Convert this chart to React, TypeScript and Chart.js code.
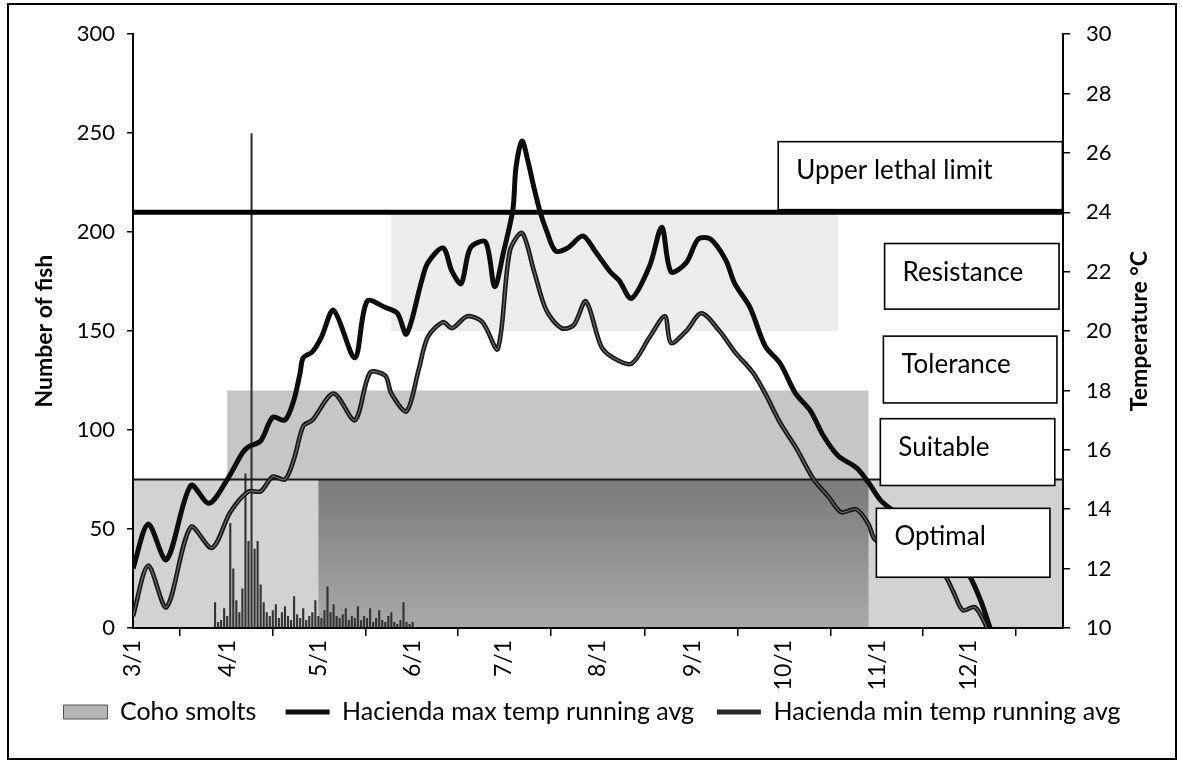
import React, { useEffect, useRef } from 'react';
import { Chart, registerables } from 'chart.js';

Chart.register(...registerables);

// ---------------- data ----------------
// x values are days counted from 3/1
const monthTickDays = [0, 31, 61, 92, 122, 153, 184, 214, 245, 275, 306];
const monthTickLabels = ['3/1', '4/1', '5/1', '6/1', '7/1', '8/1', '9/1', '10/1', '11/1', '12/1', ''];

const maxTempDays = [0, 5, 11, 19, 25, 31, 36, 38, 42, 46, 50, 53, 55, 56, 59, 62, 66, 73, 77, 83, 87, 90, 95, 97, 102, 105, 108, 111, 116, 119, 122, 125, 126, 128, 130, 132, 134, 136, 139, 143, 148, 152, 157, 160, 164, 170, 174, 177, 182, 186, 190, 195, 198, 203, 208, 213, 218, 223, 227, 232, 238, 242, 246, 252, 259, 266, 271, 275, 279, 282, 284];
const maxTempValues = [12.0, 13.5, 12.3, 14.8, 14.2, 15.0, 15.9, 16.1, 16.3, 17.1, 17.0, 17.7, 18.6, 19.1, 19.3, 19.8, 20.7, 19.1, 21.0, 20.8, 20.6, 19.9, 21.7, 22.3, 22.8, 22.0, 21.6, 22.8, 23.0, 21.5, 22.7, 24.1, 25.5, 26.4, 25.7, 24.8, 24.0, 23.4, 22.7, 22.8, 23.2, 22.7, 22.0, 21.7, 21.1, 22.2, 23.5, 22.0, 22.3, 23.1, 23.1, 22.4, 21.6, 20.8, 19.5, 18.9, 17.9, 17.3, 16.5, 15.8, 15.4, 14.9, 14.3, 13.8, 13.2, 12.6, 12.2, 11.8, 10.9, 10.0, 9.4];

const minTempDays = [0, 5, 11, 19, 26, 32, 38, 42, 46, 50, 53, 56, 59, 66, 73, 78, 83, 85, 90, 94, 97, 102, 105, 110, 115, 120, 124, 128, 132, 136, 141, 145, 149, 154, 158, 164, 170, 175, 177, 182, 187, 193, 198, 204, 208, 213, 218, 224, 229, 233, 238, 242, 244, 250, 258, 264, 267, 270, 273, 277, 281, 283];
const minTempValues = [10.4, 12.1, 10.7, 13.4, 12.7, 13.9, 14.6, 14.6, 15.1, 15.0, 15.7, 16.8, 17.0, 17.9, 17.0, 18.6, 18.5, 17.9, 17.3, 18.7, 19.8, 20.3, 20.1, 20.5, 20.3, 19.4, 22.7, 23.3, 22.0, 20.7, 20.1, 20.2, 21.0, 19.5, 19.1, 18.9, 19.8, 20.5, 19.6, 20.0, 20.6, 20.0, 19.3, 18.6, 17.9, 16.9, 16.1, 15.0, 14.4, 13.9, 14.0, 13.5, 13.0, 12.6, 12.3, 12.0, 11.8, 11.2, 10.6, 10.7, 10.0, 9.4];

const smoltDays = [27, 28, 29, 30, 31, 32, 33, 34, 35, 36, 37, 38, 39, 40, 41, 42, 43, 44, 45, 46, 47, 48, 49, 50, 51, 52, 53, 54, 55, 56, 57, 58, 59, 60, 61, 62, 63, 64, 65, 66, 67, 68, 69, 70, 71, 72, 73, 74, 75, 76, 77, 78, 79, 80, 81, 82, 83, 84, 85, 86, 87, 88, 89, 90, 91, 92];
const smoltCounts = [13, 3, 4, 10, 6, 53, 30, 14, 8, 20, 78, 44, 250, 40, 44, 22, 13, 8, 6, 9, 12, 5, 8, 11, 6, 4, 16, 7, 5, 10, 4, 6, 8, 14, 6, 5, 9, 21, 8, 12, 6, 5, 7, 10, 4, 6, 5, 11, 4, 6, 5, 10, 3, 5, 9, 4, 3, 6, 8, 3, 2, 4, 13, 3, 2, 3];

const upperLethalTemp = [24];
const optimalLimitTemp = [15];

const seriesLabels = ['Coho smolts', 'Hacienda max temp running avg', 'Hacienda min temp running avg'];

// ---------------- layout / style config ----------------
const X_END = 306;

const zoneBands = [
  { d0: 0, d1: X_END, t0: 10, t1: 15, color: '#d2d2d2' },
  { d0: 61, d1: 242, t0: 10, t1: 15, color: '#7a7a7a', color2: '#a9a9a9' },
  { d0: 31, d1: 242, t0: 15, t1: 18, color: '#c6c6c6' },
  { d0: 85, d1: 232, t0: 20, t1: 24, color: '#ececec' },
];

const zoneBoxes = [
  { label: 'Upper lethal limit', d0: 212.3, d1: 305.8, tTop: 26.38, tBottom: 24.09 },
  { label: 'Resistance', d0: 247.3, d1: 304.7, tTop: 22.95, tBottom: 20.74 },
  { label: 'Tolerance', d0: 246.9, d1: 304.0, tTop: 19.83, tBottom: 17.58 },
  { label: 'Suitable', d0: 245.9, d1: 303.3, tTop: 17.05, tBottom: 14.8 },
  { label: 'Optimal', d0: 244.6, d1: 301.7, tTop: 14.03, tBottom: 11.71 },
];

const FONT = 'Lato, "Open Sans", sans-serif';

const bandsPlugin = {
  id: 'zoneBands',
  beforeDraw(chart: any) {
    const { ctx, chartArea, scales } = chart;
    const xs = scales.x;
    const ys = scales.y2;
    ctx.save();
    ctx.beginPath();
    ctx.rect(chartArea.left, chartArea.top, chartArea.right - chartArea.left, chartArea.bottom - chartArea.top);
    ctx.clip();
    zoneBands.forEach((b: any) => {
      const x0 = xs.getPixelForValue(b.d0);
      const x1 = xs.getPixelForValue(b.d1);
      const y0 = ys.getPixelForValue(b.t1);
      const y1 = ys.getPixelForValue(b.t0);
      if (b.color2) {
        const g = ctx.createLinearGradient(0, y0, 0, y1);
        g.addColorStop(0, b.color);
        g.addColorStop(1, b.color2);
        ctx.fillStyle = g;
      } else {
        ctx.fillStyle = b.color;
      }
      ctx.fillRect(x0, y0, x1 - x0, y1 - y0);
    });
    ctx.restore();
  },
};

const boxesPlugin = {
  id: 'zoneBoxes',
  afterDatasetsDraw(chart: any) {
    const { ctx, scales } = chart;
    const xs = scales.x;
    const ys = scales.y2;
    ctx.save();
    zoneBoxes.forEach((b) => {
      const x0 = xs.getPixelForValue(b.d0);
      const x1 = xs.getPixelForValue(b.d1);
      const y0 = ys.getPixelForValue(b.tTop);
      const y1 = ys.getPixelForValue(b.tBottom);
      ctx.fillStyle = '#ffffff';
      ctx.fillRect(x0, y0, x1 - x0, y1 - y0);
      ctx.strokeStyle = '#000';
      ctx.lineWidth = 1.6;
      ctx.strokeRect(x0, y0, x1 - x0, y1 - y0);
      ctx.fillStyle = '#000';
      ctx.font = `26px ${FONT}`;
      ctx.textAlign = 'left';
      ctx.textBaseline = 'alphabetic';
      ctx.fillText(b.label, x0 + 18, y0 + 37);
    });
    ctx.restore();
  },
  afterDraw(chart: any) {
    const { ctx, chartArea } = chart;
    ctx.save();
    ctx.translate(chartArea.right + 77, (chartArea.top + chartArea.bottom) / 2);
    ctx.rotate(-Math.PI / 2);
    ctx.font = `bold 23px ${FONT}`;
    ctx.fillStyle = '#000';
    ctx.textAlign = 'center';
    ctx.textBaseline = 'middle';
    ctx.fillText('Temperature °C', 0, 0);
    ctx.restore();
  },
};

export default function App() {
  const canvasRef = useRef<HTMLCanvasElement | null>(null);

  useEffect(() => {
    if (!canvasRef.current) return;
    Chart.defaults.font.family = FONT;
    Chart.defaults.color = '#000';

    const maxData = maxTempDays.map((d, i) => ({ x: d, y: maxTempValues[i] }));
    const minData = minTempDays.map((d, i) => ({ x: d, y: minTempValues[i] }));
    const smoltData = smoltDays.map((d, i) => ({ x: d, y: smoltCounts[i] }));
    const lethalData = [{ x: 0, y: upperLethalTemp[0] }, { x: X_END, y: upperLethalTemp[0] }];
    const optimalData = [{ x: 0, y: optimalLimitTemp[0] }, { x: X_END, y: optimalLimitTemp[0] }];

    const chart = new Chart(canvasRef.current, {
      type: 'line',
      data: {
        datasets: [
          {
            type: 'line', label: seriesLabels[1], data: maxData, yAxisID: 'y2',
            borderColor: '#0d0d0d', borderWidth: 5, pointRadius: 0, tension: 0.3, order: 1, clip: 0,
          } as any,
          {
            type: 'line', label: 'min-inner', data: minData, yAxisID: 'y2',
            borderColor: '#6e6e6e', borderWidth: 1.1, pointRadius: 0, tension: 0.3, order: 2, clip: 0,
          } as any,
          {
            type: 'line', label: seriesLabels[2], data: minData, yAxisID: 'y2',
            borderColor: '#1a1a1a', borderWidth: 4.6, pointRadius: 0, tension: 0.3, order: 3, clip: 0,
          } as any,
          {
            type: 'line', label: 'lethal', data: lethalData, yAxisID: 'y2',
            borderColor: '#000', borderWidth: 5, pointRadius: 0, order: 4,
          } as any,
          {
            type: 'line', label: 'optimal', data: optimalData, yAxisID: 'y2',
            borderColor: '#1a1a1a', borderWidth: 2, pointRadius: 0, order: 4,
          } as any,
          {
            type: 'bar', label: seriesLabels[0], data: smoltData, yAxisID: 'y',
            backgroundColor: '#333', barPercentage: 0.7, categoryPercentage: 1, order: 6,
          } as any,
        ],
      },
      options: {
        responsive: false,
        animation: false,
        devicePixelRatio: 1,
        events: [],
        layout: { padding: { top: 27, left: 0, right: 0, bottom: 23.5 } },
        scales: {
          x: {
            type: 'linear', min: 0, max: X_END, offset: false,
            afterBuildTicks: (scale: any) => { scale.ticks = monthTickDays.map((v) => ({ value: v })); },
            afterFit: (scale: any) => { scale.height = 61.5; },
            ticks: {
              autoSkip: false, minRotation: 90, maxRotation: 90, padding: 4,
              font: { size: 23 }, color: '#000',
              callback: (_v: any, i: number) => monthTickLabels[i],
            },
            grid: { drawOnChartArea: false, drawTicks: true, tickLength: 8, color: '#000', lineWidth: 1.5 },
            border: { display: true, color: '#000', width: 2 },
          },
          y: {
            type: 'linear', position: 'left', min: 0, max: 300,
            afterFit: (scale: any) => { scale.width = 124; },
            ticks: { stepSize: 50, padding: 12, font: { size: 22 }, color: '#000' },
            grid: { drawOnChartArea: false, tickLength: 6, color: '#000', lineWidth: 1.5 },
            border: { display: true, color: '#000', width: 2 },
            title: { display: true, text: 'Number of fish', font: { size: 23, weight: 'bold' }, padding: { top: 22, bottom: 0 }, color: '#000' },
          },
          y2: {
            type: 'linear', position: 'right', min: 10, max: 30,
            afterFit: (scale: any) => { scale.width = 112; },
            ticks: { stepSize: 2, padding: 16, font: { size: 22 }, color: '#000' },
            grid: { drawOnChartArea: false, tickLength: 7, color: '#000', lineWidth: 1.5 },
            border: { display: true, color: '#000', width: 2 },
          },
        },
        plugins: {
          tooltip: { enabled: false },
          legend: {
            display: true,
            position: 'bottom',
            labels: {
              usePointStyle: true,
              pointStyleWidth: 44,
              boxHeight: 14,
              padding: 10,
              font: { size: 25 },
              color: '#000',
              generateLabels: () => [
                { text: seriesLabels[0] + '   ', fillStyle: '#b5b5b5', strokeStyle: '#555', lineWidth: 1, pointStyle: 'rect', hidden: false, datasetIndex: 5, fontColor: '#000' },
                { text: seriesLabels[1] + '  ', fillStyle: '#0d0d0d', strokeStyle: '#0d0d0d', lineWidth: 5, pointStyle: 'line', hidden: false, datasetIndex: 0, fontColor: '#000' },
                { text: seriesLabels[2], fillStyle: '#333', strokeStyle: '#2a2a2a', lineWidth: 5, pointStyle: 'line', hidden: false, datasetIndex: 2, fontColor: '#000' },
              ] as any,
            },
          },
        },
      } as any,
      plugins: [bandsPlugin, boxesPlugin],
    });
    return () => chart.destroy();
  }, []);

  return (
    <div
      style={{
        position: 'absolute', left: 7, top: 3, width: 1166, height: 753,
        border: '2px solid #000', background: '#fff',
      }}
    >
      <canvas ref={canvasRef} width={1166} height={753} style={{ display: 'block', width: 1166, height: 753 }} />
    </div>
  );
}
